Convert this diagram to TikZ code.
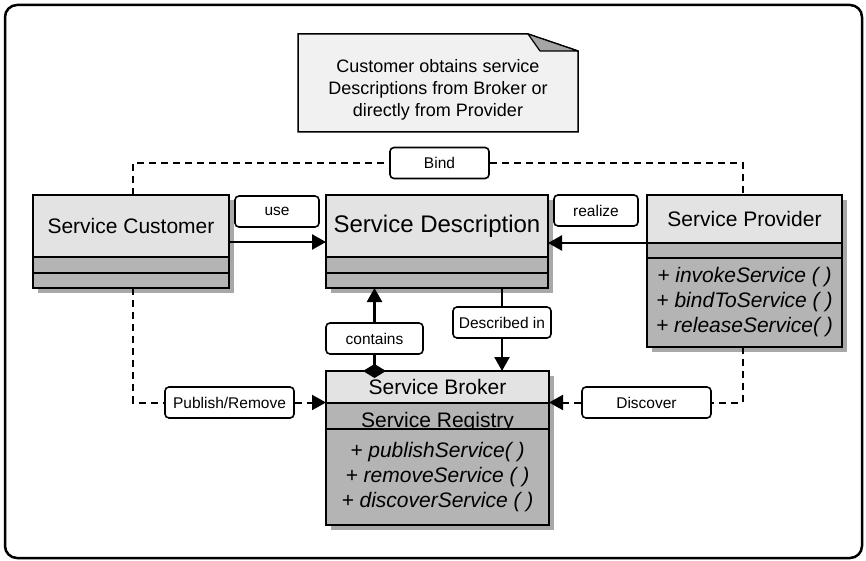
\documentclass[tikz,border=0pt]{standalone}
\usepackage{fontspec}
\setmainfont{Liberation Sans}
\usetikzlibrary{arrows.meta,positioning,shadows}
\definecolor{hdrgray}{RGB}{227,227,227}
\definecolor{boxgray}{RGB}{180,180,180}
\definecolor{shadegray}{RGB}{168,168,168}
\definecolor{notegray}{RGB}{241,241,241}
\definecolor{foldgray}{RGB}{165,165,165}
\newcommand{\clsfont}{\fontsize{21}{25}\selectfont}
\newcommand{\descfont}{\fontsize{24}{28}\selectfont}
\newcommand{\lblfont}{\fontsize{15.5}{18}\selectfont}
\newcommand{\notefont}{\fontsize{18}{22}\selectfont}
\begin{document}
\begin{tikzpicture}[x=1pt,y=-1pt,
        part/.style={draw, line width=2pt, inner sep=0pt, outer sep=0pt,
            drop shadow={shadow xshift=5pt, shadow yshift=-5pt, fill=shadegray, opacity=1}},
        hdr/.style={part, fill=hdrgray, font=\clsfont},
        comp/.style={part, fill=boxgray},
        ops/.style={part, fill=boxgray, font=\clsfont\itshape, align=center},
        lbl/.style={draw, fill=white, rounded corners=4pt, line width=1.6pt,
            inner xsep=3pt, minimum height=31pt, font=\lblfont},
        assoc/.style={line width=2.5pt, -{Triangle[length=14pt,width=15pt]}},
        dep/.style={line width=2pt, dash pattern=on 7pt off 5pt}
    ]
        \useasboundingbox (0,0) rectangle (866,561);
        \draw[line width=2.5pt, rounded corners=12pt] (5,5) rectangle (862,558);

        \draw[fill=notegray, line width=1.5pt] (298,34) -- (528,34) -- (578,51) -- (578,132) -- (298,132) -- cycle;
        \draw[fill=foldgray, line width=1.2pt, line join=round] (528,34) -- (540,51) -- (578,51) -- cycle;
        \node[align=center, font=\notefont] (note) at (438,90)
            {Customer obtains service\\Descriptions from Broker or\\directly from Provider};

        \node[hdr, minimum width=196pt, minimum height=62pt] (cust) at (131,226) {Service Customer};
        \node[comp, minimum width=196pt, minimum height=16pt, below=0pt of cust] (custatt) {};
        \node[comp, minimum width=196pt, minimum height=15pt, below=0pt of custatt] (custops) {};

        \node[hdr, font=\descfont, minimum width=222pt, minimum height=62pt] (desc) at (437,226) {Service Description};
        \node[comp, minimum width=222pt, minimum height=16pt, below=0pt of desc] (descatt) {};
        \node[comp, minimum width=222pt, minimum height=15pt, below=0pt of descatt] (descops) {};

        \node[hdr, minimum width=195pt, minimum height=48pt] (prov) at (744.5,219) {Service Provider};
        \node[comp, minimum width=195pt, minimum height=15pt, below=0pt of prov] (provatt) {};
        \node[ops, minimum width=195pt, minimum height=89pt, below=0pt of provatt] (provops)
            {+ invokeService ( )\\+ bindToService ( )\\+ releaseService( )};

        \node[hdr, minimum width=223pt, minimum height=32pt] (brok) at (437.5,387) {Service Broker};
        \node[comp, minimum width=223pt, minimum height=26pt, below=0pt of brok] (brokreg) {};
        \node[font=\clsfont, anchor=base] (regname) at (437.5,427) {Service Registry};
        \node[ops, minimum width=223pt, minimum height=96pt, below=0pt of brokreg] (brokops)
            {+ publishService( )\\+ removeService ( )\\+ discoverService ( )};

        \node[lbl, minimum width=99pt] (bind) at (439.5,163) {Bind};
        \node[lbl, minimum width=84pt] (use) at (277,211.5) {use};
        \node[lbl, minimum width=84pt] (realize) at (596,210.5) {realize};
        \node[lbl, minimum width=97pt] (contains) at (374.5,338.5) {contains};
        \node[lbl, minimum width=98pt] (descin) at (502,322.5) {Described in};
        \node[lbl, minimum width=129pt] (pubrem) at (229.5,402.5) {Publish/Remove};
        \node[lbl, minimum width=129pt] (discover) at (646.5,402.5) {Discover};

        \draw[assoc] ([yshift=-16pt]cust.east) -- ([yshift=-16pt]desc.west);
        \draw[assoc] (prov.south west) -- (prov.south west -| desc.east);
        \draw[dep] ([xshift=2pt]cust.north) |- (bind);
        \draw[dep] (bind) -| ([xshift=-2pt]prov.north);
        \draw[line width=2.5pt, {Diamond[length=14pt,width=23pt]}-, shorten <=-7pt]
            (contains |- brok.north) -- (contains);
        \draw[assoc] (contains) -- (contains |- descops.south);
        \draw[line width=2.5pt] (descin |- descops.south) -- (descin);
        \draw[assoc] (descin) -- (descin |- brok.north);
        \draw[dep] ([xshift=2pt]custops.south) |- (pubrem);
        \draw[dep, -{Triangle[length=14pt,width=15pt]}] (pubrem) -- (pubrem -| brok.west);
        \draw[dep] ([xshift=-2pt]provops.south) |- (discover);
        \draw[dep, -{Triangle[length=14pt,width=15pt]}] (discover) -- (discover -| brok.east);
\end{tikzpicture}
\end{document}
